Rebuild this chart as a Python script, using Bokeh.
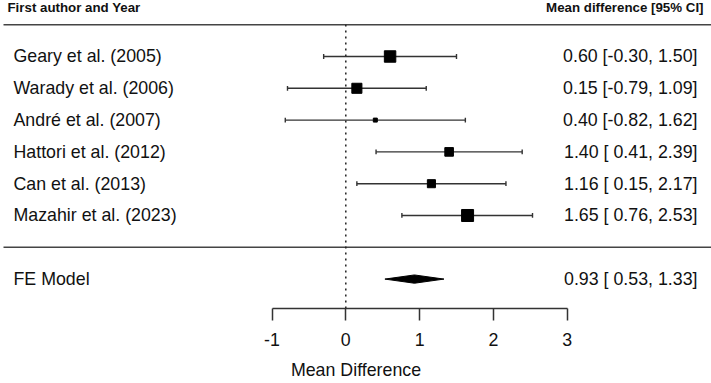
from bokeh.plotting import figure
from bokeh.models import Range1d, LinearAxis, FixedTicker, ColumnDataSource, CustomJSTickFormatter
from bokeh.core.properties import value
from bokeh.embed import file_html
from bokeh.resources import INLINE
import numpy as np

# ---------------- data ----------------
studies = ["Geary et al. (2005)", "Warady et al. (2006)", "André et al. (2007)",
           "Hattori et al. (2012)", "Can et al. (2013)", "Mazahir et al. (2023)"]
mean_diff = [0.60, 0.15, 0.40, 1.40, 1.16, 1.65]
ci_lower = [-0.30, -0.79, -0.82, 0.41, 0.15, 0.76]
ci_upper = [1.50, 1.09, 1.62, 2.39, 2.17, 2.53]
model_label = "FE Model"
model_est = 0.93
model_lower = 0.53
model_upper = 1.33
x_ticks = [-1, 0, 1, 2, 3]
header_left = "First author and Year"
header_right = "Mean difference [95% CI]"
x_title = "Mean Difference"

# ---------------- layout ----------------
W, H = 711, 383
FONT = "Liberation Sans"
FS = "17.8px"
TXT = "#111111"
LINE = "#333333"

n = len(studies)
rows = list(range(n, 0, -1))          # studies at rows n..1
model_row = -1
header_row = n + 1

x0_px, scale = 345.3, 73.8            # pixel of 0, pixels per unit
xr = Range1d((0 - x0_px) / scale, (W - x0_px) / scale)
yr = Range1d(-1.925, 7.761)

def px(v):
    return (v - x0_px) / scale

p = figure(width=W, height=H, x_range=xr, y_range=yr,
           x_axis_type=None, y_axis_type=None,
           min_border_left=0, min_border_right=0, min_border_top=0,
           min_border_bottom=75, toolbar_location=None, output_backend="svg")
p.outline_line_color = None
p.background_fill_color = "white"
p.border_fill_color = "white"

# horizontal rules
for yy in (header_row, 0):
    p.segment(x0=[px(3)], y0=[yy], x1=[px(W)], y1=[yy], line_color="#444444", line_width=1.5)

# zero reference line
p.segment(x0=[0], y0=[yr.start], x1=[0], y1=[header_row], line_color="#222222",
          line_width=1.5, line_dash="2 4")

# CIs
se = (np.array(ci_upper) - np.array(ci_lower)) / (2 * 1.96)
w = 1 / se ** 2
sizes = 4 + 8 * (w - w.min()) / (w.max() - w.min())
cap = 0.075
src = ColumnDataSource(dict(y=rows, est=mean_diff, lo=ci_lower, hi=ci_upper, size=sizes,
                            name=studies,
                            ylo=[r - cap for r in rows], yhi=[r + cap for r in rows],
                            lab=[f"{m:.2f} [{l:5.2f}, {h:.2f}]" for m, l, h in zip(mean_diff, ci_lower, ci_upper)]))
p.segment(x0="lo", y0="y", x1="hi", y1="y", source=src, line_color=LINE, line_width=1.4)
p.segment(x0="lo", y0="ylo", x1="lo", y1="yhi", source=src, line_color=LINE, line_width=1.4)
p.segment(x0="hi", y0="ylo", x1="hi", y1="yhi", source=src, line_color=LINE, line_width=1.4)
p.scatter(x="est", y="y", size="size", marker="square", source=src,
          fill_color="black", line_color="black")

# summary diamond
dh = 0.13
p.patch(x=[model_lower, model_est, model_upper, model_est],
        y=[model_row, model_row + dh, model_row, model_row - dh],
        fill_color="black", line_color="black", line_width=1)

# texts
p.text(x=xr.start, y="y", text="name", source=src, x_offset=13,
       text_font=value(FONT), text_font_size=FS, text_color=TXT,
       text_baseline="middle", text_align="left")
p.text(x=px(697), y="y", text="lab", source=src,
       text_font=value(FONT), text_font_size=FS, text_color=TXT,
       text_baseline="middle", text_align="right")
p.text(x=[xr.start], y=[model_row], text=[model_label], x_offset=13,
       text_font=value(FONT), text_font_size=FS, text_color=TXT,
       text_baseline="middle", text_align="left")
p.text(x=[px(697)], y=[model_row],
       text=[f"{model_est:.2f} [{model_lower:5.2f}, {model_upper:.2f}]"],
       text_font=value(FONT), text_font_size=FS, text_color=TXT,
       text_baseline="middle", text_align="right")
p.text(x=[px(7)], y=[header_row + 0.55], text=[header_left],
       text_font=value(FONT), text_font_size="13.3px", text_font_style="bold",
       text_color=TXT, text_baseline="middle", text_align="left")
p.text(x=[px(703)], y=[header_row + 0.55], text=[header_right],
       text_font=value(FONT), text_font_size="13.3px", text_font_style="bold",
       text_color=TXT, text_baseline="middle", text_align="right")

# axis
ax = LinearAxis(bounds=(min(x_ticks), max(x_ticks)), ticker=FixedTicker(ticks=x_ticks),
                formatter=CustomJSTickFormatter(code="return String(tick);"))
ax.axis_line_color = LINE
ax.axis_line_width = 1.5
ax.major_tick_line_color = LINE
ax.major_tick_line_width = 1.5
ax.major_tick_out = 12
ax.major_tick_in = 0
ax.minor_tick_out = 0
ax.minor_tick_in = 0
ax.major_label_text_font = FONT
ax.major_label_text_font_size = FS
ax.major_label_text_color = TXT
ax.major_label_standoff = 12
ax.axis_label = x_title
ax.axis_label_text_font = FONT
ax.axis_label_text_font_size = FS
ax.axis_label_text_font_style = "normal"
ax.axis_label_text_color = TXT
ax.axis_label_standoff = 11
p.add_layout(ax, "below")

open("out.html", "w").write(file_html(p, INLINE))
